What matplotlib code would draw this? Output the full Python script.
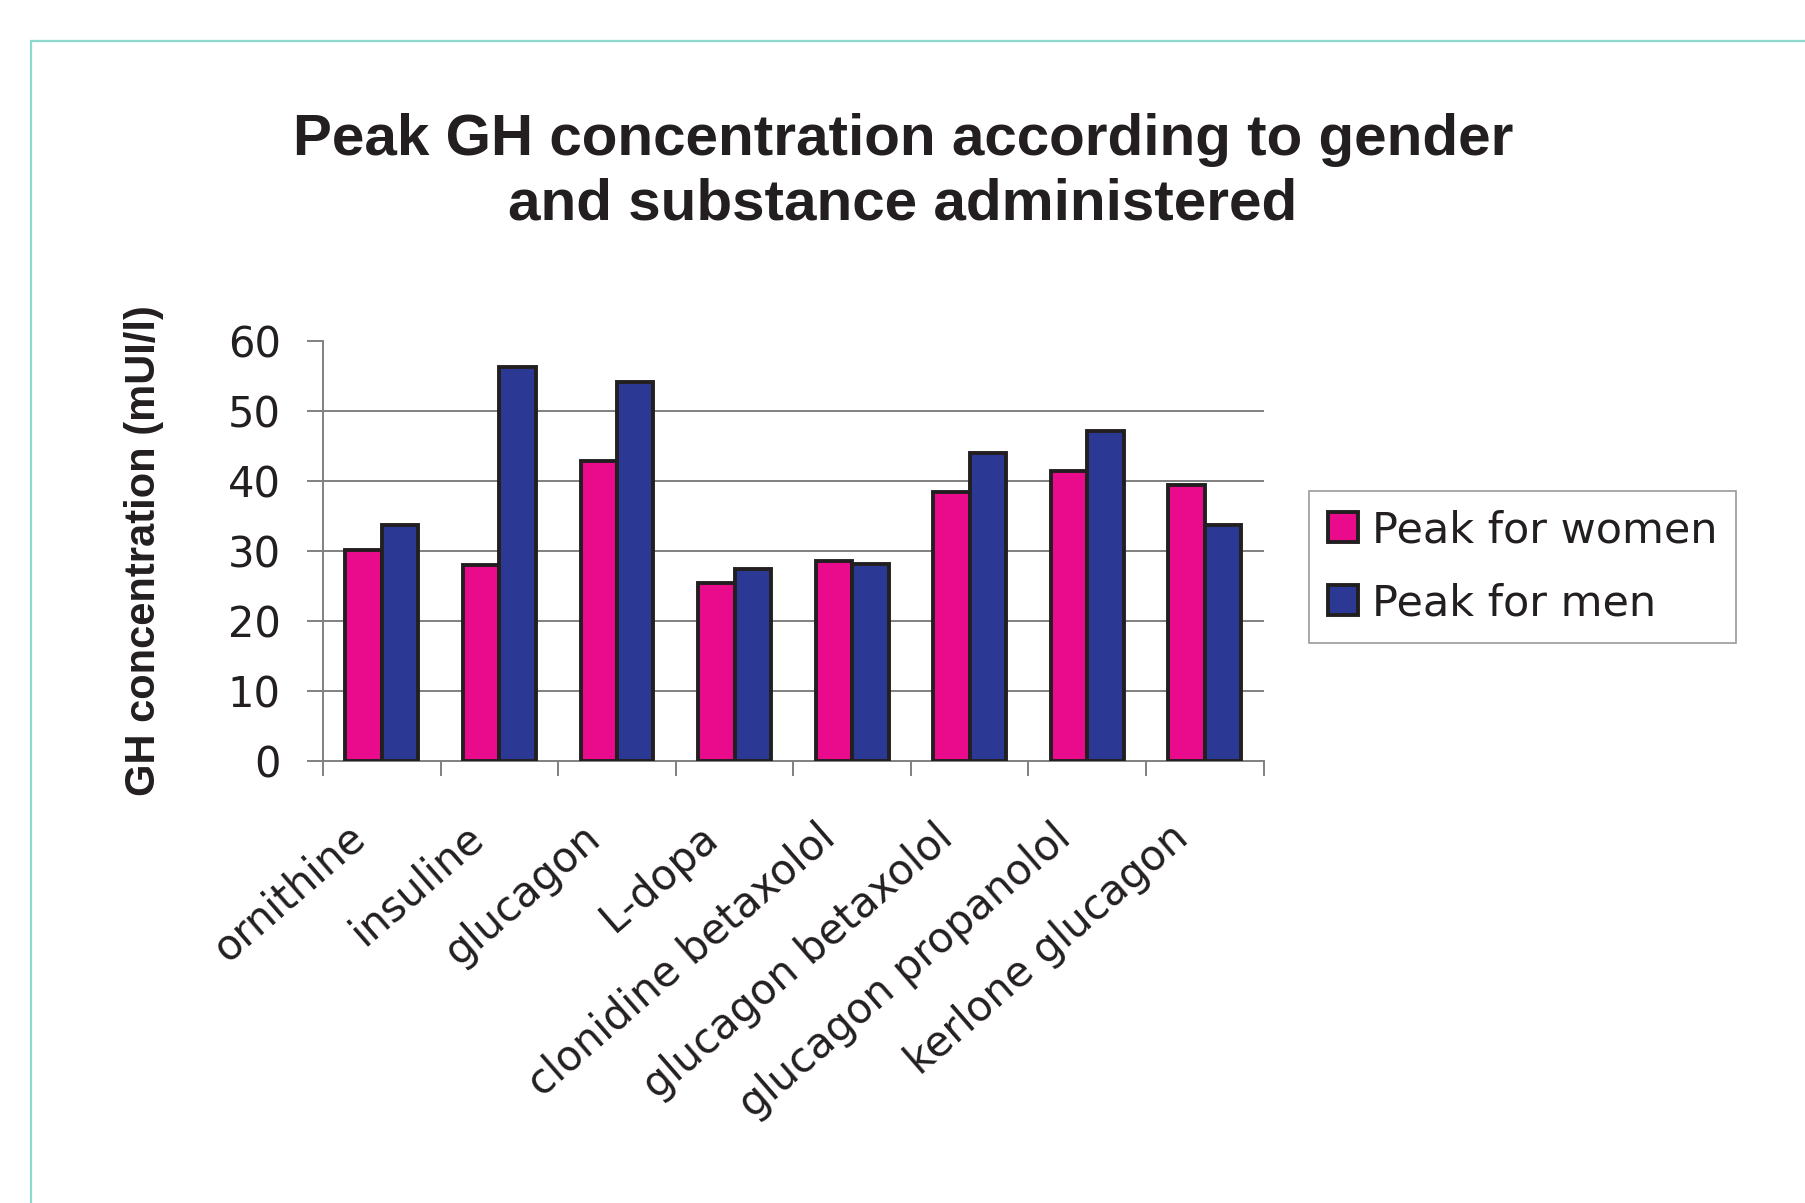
import matplotlib
matplotlib.use('agg')
import matplotlib.pyplot as plt
import numpy as np
from matplotlib.patches import Rectangle

substances = ['ornithine', 'insuline', 'glucagon', 'L-dopa', 'clonidine betaxolol',
              'glucagon betaxolol', 'glucagon propanolol', 'kerlone glucagon']
peak_women = [30.1, 28.0, 42.9, 25.4, 28.6, 38.4, 41.4, 39.4]
peak_men = [33.7, 56.3, 54.2, 27.5, 28.1, 44.0, 47.2, 33.7]
yticks = [0, 10, 20, 30, 40, 50, 60]

plt.rcParams['font.family'] = ['DejaVu Sans']
ink = '#231f20'
grey = '#808080'

fig = plt.figure(figsize=(18.05, 12.03), dpi=100)
# teal frame around the figure area
fig.patches.append(Rectangle((31 / 1805, -0.1), 1.2, 1 - 41 / 1203 + 0.1,
                             transform=fig.transFigure, fill=False,
                             edgecolor='#8fd8d0', linewidth=1.6))

ax = fig.add_axes([0.179, 0.3674, 0.521, 0.3491])
x = np.arange(len(substances))
w = 0.31
ax.bar(x - w / 2, peak_women, w, color='#ea0a8c', edgecolor=ink, linewidth=2.8,
       label='Peak for women', zorder=3)
ax.bar(x + w / 2, peak_men, w, color='#2b3894', edgecolor=ink, linewidth=2.8,
       label='Peak for men', zorder=3)

ax.set_xlim(-0.5, len(substances) - 0.5)
ax.set_ylim(0, 60)
ax.set_yticks(yticks)
ax.set_yticklabels([str(v) for v in yticks], fontsize=30, color=ink)
for v in yticks[1:-1]:
    ax.axhline(v, color=grey, linewidth=1.4, zorder=1)

# labels sit a little left of the category centre, as in the original
ax.set_xticks(x - 0.19)
ax.set_xticklabels(substances, rotation=41, ha='right', va='center',
                   rotation_mode='anchor', fontsize=30, color=ink)
ax.set_xticks(np.arange(len(substances) + 1) - 0.5, minor=True)
ax.tick_params(axis='x', which='major', length=0, pad=51)
ax.tick_params(axis='x', which='minor', length=11, width=1.4, color=grey, direction='out')
ax.tick_params(axis='y', length=11.5, width=1.4, color=grey, pad=19)

for side in ['top', 'right']:
    ax.spines[side].set_visible(False)
for side in ['left', 'bottom']:
    ax.spines[side].set_color(grey)
    ax.spines[side].set_linewidth(1.4)

ax.set_ylabel('GH concentration (mUI/l)', fontsize=30, fontweight='bold', color=ink,
              family='Liberation Sans', labelpad=46)

fig.text(0.5003, 0.857, 'Peak GH concentration according to gender\nand substance administered',
         ha='center', va='center', fontsize=42, fontweight='bold', color=ink,
         family='Liberation Sans', linespacing=1.25)

leg = ax.legend(loc='center left', bbox_to_anchor=(1.026, 0.462), fontsize=31,
                frameon=True, fancybox=False, edgecolor=grey, handlelength=0.7,
                handleheight=0.7, handletextpad=0.34, labelspacing=0.72,
                borderpad=0.42, borderaxespad=0.5, labelcolor=ink)
leg.get_frame().set_linewidth(1.2)

plt.savefig('out.png', dpi=100)
